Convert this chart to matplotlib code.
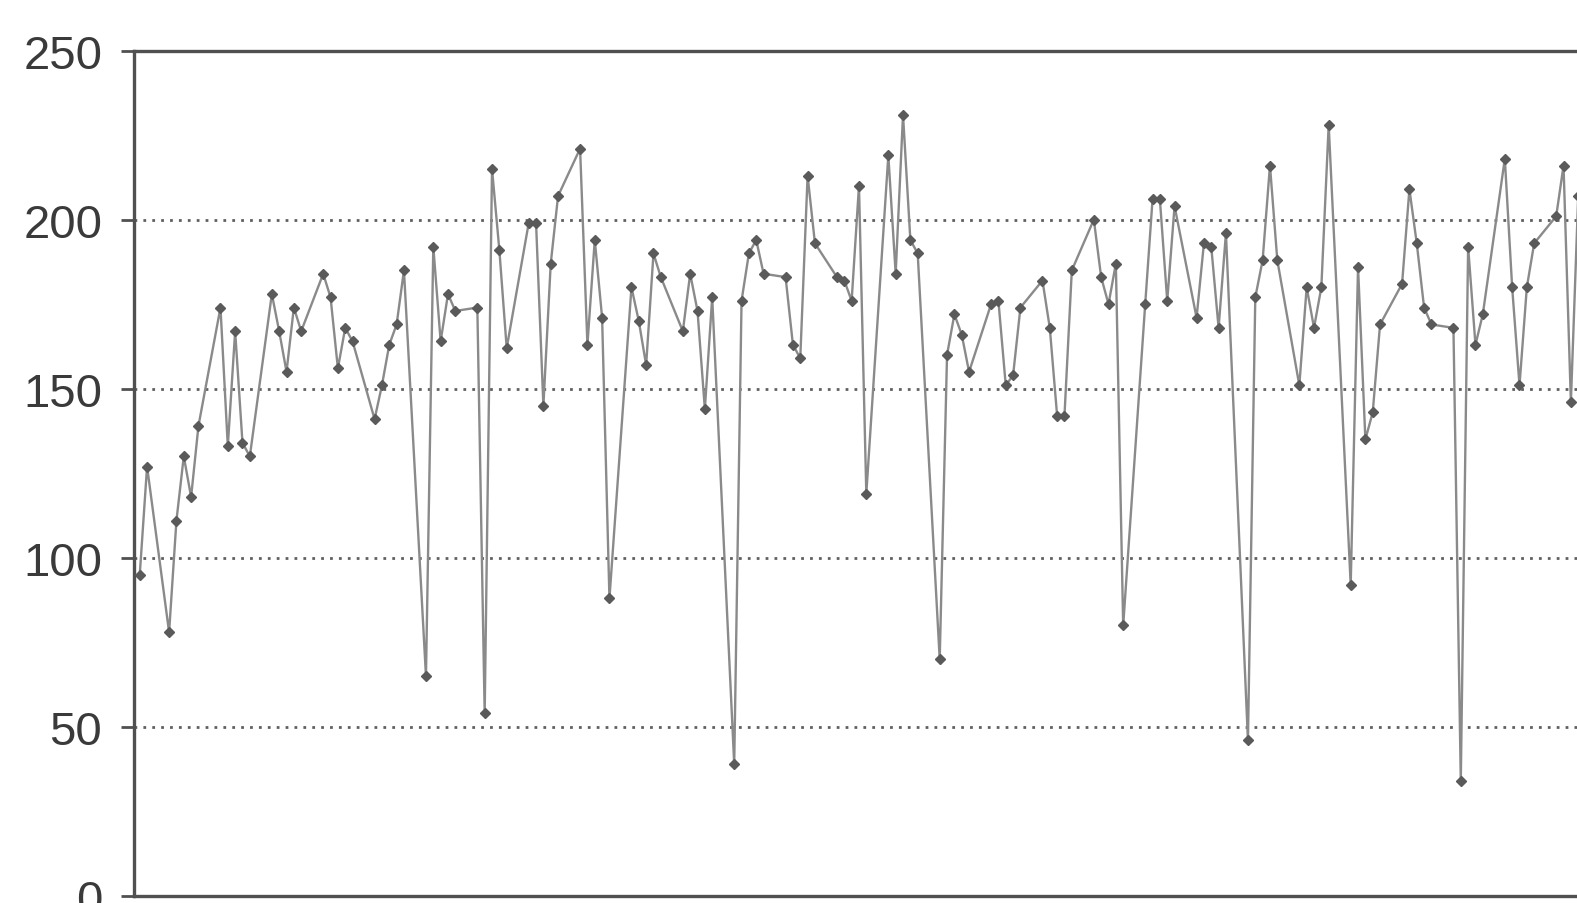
import matplotlib
matplotlib.use("Agg")
import matplotlib.pyplot as plt
import pandas as pd

# daily values, business days only (weekends skipped), first point is a Thursday
values = [
    95, 127,
    78, 111, 130, 118, 139,
    174, 133, 167, 134, 130,
    178, 167, 155, 174, 167,
    184, 177, 156, 168, 164,
    141, 151, 163, 169, 185,
    65, 192, 164, 178, 173,
    174, 54, 215, 191, 162,
    199, 199, 145, 187, 207,
    221, 163, 194, 171, 88,
    180, 170, 157, 190, 183,
    167, 184, 173, 144, 177,
    39, 176, 190, 194, 184,
    183, 163, 159, 213, 193,
    183, 182, 176, 210, 119,
    219, 184, 231, 194, 190,
    70, 160, 172, 166, 155,
    175, 176, 151, 154, 174,
    182, 168, 142, 142, 185,
    200, 183, 175, 187, 80,
    175, 206, 206, 176, 204,
    171, 193, 192, 168, 196,
    46, 177, 188, 216, 188,
    151, 180, 168, 180, 228,
    92, 186, 135, 143, 169,
    181, 209, 193, 174, 169,
    168, 34, 192, 163, 172,
    218, 180, 151, 180, 193,
    201, 216, 146, 207,
]
start_day = "2003-01-02"
first_monday = pd.Timestamp("2003-01-06")
y_ticks = [0, 50, 100, 150, 200, 250]

dates = pd.bdate_range(start_day, periods=len(values))

fig = plt.figure(figsize=(15.77, 9.04), dpi=100)
# axes run past the right edge, the original is cropped there
ax = fig.add_axes([0.0847, 0.0077, 0.9533, 0.9353])

ax.plot(dates, values, color="#8a8a8a", linewidth=1.7,
        marker="D", markersize=5, markerfacecolor="#5a5a5a",
        markeredgecolor="#5a5a5a", zorder=3)

ax.set_ylim(0, 250)
ax.set_xlim(first_monday - pd.Timedelta(days=4.84),
            first_monday + pd.Timedelta(days=200))
ax.set_yticks(y_ticks)
ax.set_yticklabels([str(t) for t in y_ticks], fontfamily="Liberation Sans",
                   fontsize=34, color="#3a3a3a")
ax.tick_params(axis="y", direction="out", length=9.5, width=2,
               color="#505050", pad=13)
ax.tick_params(axis="x", bottom=False, labelbottom=False)

ax.yaxis.grid(True, linestyle=(0, (1, 2.2)), linewidth=2, color="#606060")
ax.set_axisbelow(True)

for side in ["left", "top", "bottom"]:
    ax.spines[side].set_linewidth(2.4)
    ax.spines[side].set_color("#505050")
ax.spines["right"].set_visible(False)

fig.savefig("out.png", dpi=100)
